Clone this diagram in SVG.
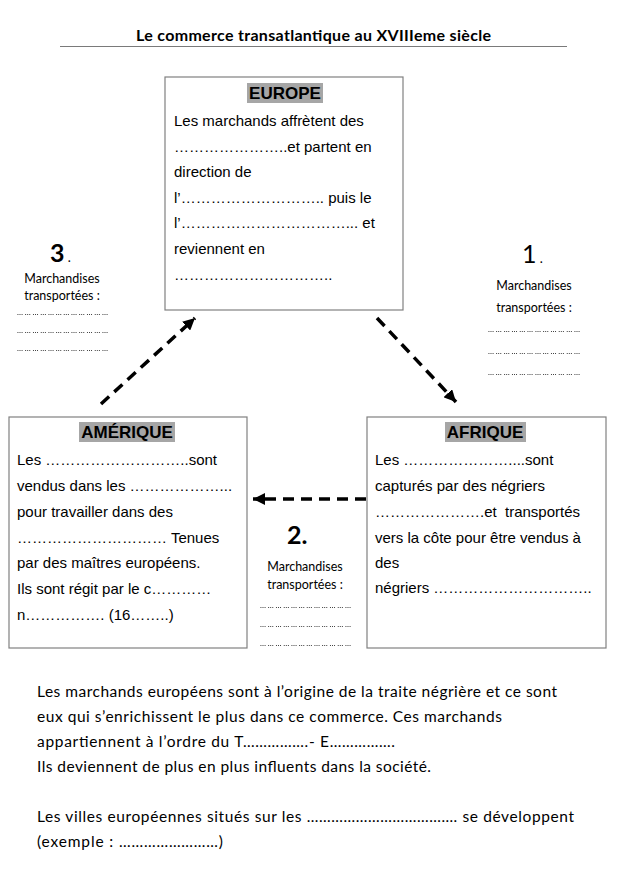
<svg xmlns="http://www.w3.org/2000/svg" width="620" height="871" viewBox="0 0 620 871">
<style>
.title{font-family:Lato,"Open Sans",sans-serif;font-weight:bold;font-size:16px;fill:#000}
.box{fill:#fff;stroke:#808080;stroke-width:1.2}
.hl{fill:#a6a6a6}
.head{font-family:"Liberation Sans",Arial,sans-serif;font-weight:bold;font-size:17px;fill:#000;text-anchor:middle}
.body{font-family:"Liberation Sans",Arial,sans-serif;font-size:15px;fill:#000}
.num{font-family:Lato,"Open Sans",sans-serif;font-size:25px;fill:#000}
.lbl{font-family:Lato,"Open Sans",sans-serif;font-size:12.5px;fill:#000;text-anchor:middle}
.fill{font-family:Lato,"Open Sans",sans-serif;font-size:8px;fill:#000}
.para{font-family:Lato,"Open Sans",sans-serif;font-size:15.5px;fill:#000}
.arrow{fill:none;stroke:#000;stroke-width:3.5;stroke-dasharray:11 7}
</style>
<defs>
<marker id="ah" markerUnits="userSpaceOnUse" markerWidth="14" markerHeight="12" refX="12" refY="6" orient="auto">
<path d="M0,0 L12,6 L0,12 Z" fill="#000"/>
</marker>
<filter id="gray" x="-5%" y="-50%" width="110%" height="200%">
<feColorMatrix type="saturate" values="0"/>
</filter>
</defs>

<g id="title">
<text class="title" x="136" y="41" textLength="355">Le commerce transatlantique au XVIIIeme siècle</text>
<line x1="60" y1="46.5" x2="567" y2="46.5" stroke="#7a7a7a" stroke-width="1"/>
</g>

<g id="connectors">
<path class="arrow" d="M377,318 L456,402" marker-end="url(#ah)"/>
<path class="arrow" d="M366,499 L253,499" marker-end="url(#ah)"/>
<path class="arrow" d="M101,404 L195,318" marker-end="url(#ah)"/>
</g>

<g id="europe">
<rect class="box" x="165" y="77" width="238" height="233"/>
<rect class="hl" x="247" y="83" width="76" height="20"/>
<text class="head" x="285" y="99">EUROPE</text>
<text class="body" x="174" y="126">Les marchands affrètent des</text>
<text class="body" x="174" y="152">&#8230;&#8230;&#8230;&#8230;&#8230;&#8230;&#8230;..et partent en</text>
<text class="body" x="174" y="177">direction de</text>
<text class="body" x="174" y="203">l’&#8230;&#8230;&#8230;&#8230;&#8230;&#8230;&#8230;&#8230;&#8230;.. puis le</text>
<text class="body" x="174" y="228">l’&#8230;&#8230;&#8230;&#8230;&#8230;&#8230;&#8230;&#8230;&#8230;&#8230;&#8230;... et</text>
<text class="body" x="174" y="254">reviennent en</text>
<text class="body" x="174" y="280">&#8230;&#8230;&#8230;&#8230;&#8230;&#8230;&#8230;&#8230;&#8230;&#8230;..</text>
</g>

<g id="label3">
<text class="num" x="50" y="262"><tspan font-weight="bold">3</tspan><tspan font-size="13px"> .</tspan></text>
<text class="lbl" x="62" y="283">Marchandises</text>
<text class="lbl" x="62" y="300">transportées :</text>
<g filter="url(#gray)">
<text class="fill" x="17" y="315" textLength="91">………………………………</text>
<text class="fill" x="17" y="333" textLength="91">………………………………</text>
<text class="fill" x="17" y="351" textLength="91">………………………………</text>
</g>
</g>

<g id="label1">
<text class="num" x="522" y="263">1<tspan font-size="13px"> .</tspan></text>
<text class="lbl" x="534" y="290">Marchandises</text>
<text class="lbl" x="534" y="312">transportées :</text>
<g filter="url(#gray)">
<text class="fill" x="488" y="332" textLength="92">………………………………</text>
<text class="fill" x="488" y="354" textLength="92">………………………………</text>
<text class="fill" x="488" y="375" textLength="92">………………………………</text>
</g>
</g>

<g id="label2">
<text class="num" x="287" y="544" font-weight="bold">2.</text>
<text class="lbl" x="305" y="571">Marchandises</text>
<text class="lbl" x="305" y="589">transportées :</text>
<g filter="url(#gray)">
<text class="fill" x="260" y="608" textLength="91">………………………………</text>
<text class="fill" x="260" y="627" textLength="91">………………………………</text>
<text class="fill" x="260" y="646" textLength="91">………………………………</text>
</g>
</g>

<g id="amerique">
<rect class="box" x="9" y="417" width="238" height="231"/>
<rect class="hl" x="79" y="422" width="96" height="20"/>
<text class="head" x="127" y="438">AMÉRIQUE</text>
<text class="body" x="17" y="465">Les &#8230;&#8230;&#8230;&#8230;&#8230;&#8230;&#8230;&#8230;&#8230;..sont</text>
<text class="body" x="17" y="491">vendus dans les &#8230;&#8230;&#8230;&#8230;&#8230;&#8230;...</text>
<text class="body" x="17" y="517">pour travailler dans des</text>
<text class="body" x="17" y="543">&#8230;&#8230;&#8230;&#8230;&#8230;&#8230;&#8230;&#8230;&#8230;&#8230; Tenues</text>
<text class="body" x="17" y="568">par des maîtres européens.</text>
<text class="body" x="17" y="594">Ils sont régit par le c&#8230;&#8230;&#8230;&#8230;</text>
<text class="body" x="17" y="620">n&#8230;&#8230;&#8230;&#8230;&#8230;. (16&#8230;&#8230;..)</text>
</g>

<g id="afrique">
<rect class="box" x="367" y="417" width="239" height="231"/>
<rect class="hl" x="445" y="422" width="81" height="20"/>
<text class="head" x="485" y="438">AFRIQUE</text>
<text class="body" x="375" y="465">Les &#8230;&#8230;&#8230;&#8230;&#8230;&#8230;&#8230;....sont</text>
<text class="body" x="375" y="491">capturés par des négriers</text>
<text class="body" x="375" y="517">&#8230;&#8230;&#8230;&#8230;&#8230;&#8230;&#8230;.et&#160; transportés</text>
<text class="body" x="375" y="543">vers la côte pour être vendus à</text>
<text class="body" x="375" y="568">des</text>
<text class="body" x="375" y="593">négriers &#8230;&#8230;&#8230;&#8230;&#8230;&#8230;&#8230;&#8230;&#8230;&#8230;..</text>
</g>

<g id="conclusion">
<text class="para" x="37" y="697" textLength="520">Les marchands européens sont à l’origine de la traite négrière et ce sont</text>
<text class="para" x="37" y="722" textLength="465">eux qui s’enrichissent le plus dans ce commerce. Ces marchands</text>
<text class="para" x="37" y="747" textLength="358">appartiennent à l’ordre du T…………….- E…………….</text>
<text class="para" x="37" y="772" textLength="394">Ils deviennent de plus en plus influents dans la société.</text>
<text class="para" x="37" y="822" textLength="537">Les villes européennes situés sur les ………………………………. se développent</text>
<text class="para" x="37" y="847" textLength="186">(exemple : ……………………)</text>
</g>
</svg>
